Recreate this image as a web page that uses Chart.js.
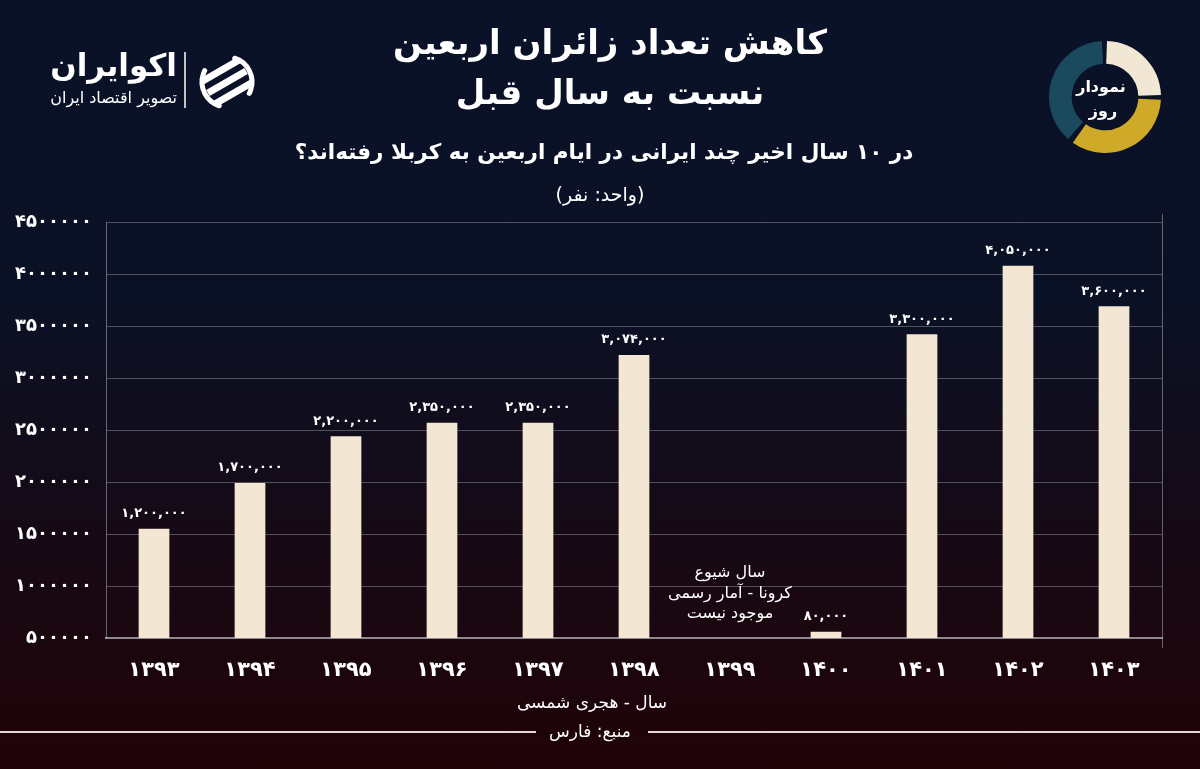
<!DOCTYPE html>
<html lang="fa">
<head>
<meta charset="utf-8">
<script src="https://cdn.jsdelivr.net/npm/chart.js@4.4.1/dist/chart.umd.min.js"></script>
<style>
  html, body { margin: 0; padding: 0; }
  body {
    width: 1200px; height: 769px; position: relative; overflow: hidden;
    background: linear-gradient(180deg, #0a1229 0%, #0b1124 40%, #150a17 66%, #200307 100%);
  }
  #graph { position: absolute; left: 0; top: 0; }
  #badge { position: absolute; left: 1049px; top: 41px; }
</style>
</head>
<body>
<canvas id="graph" width="1200" height="769"></canvas>
<canvas id="badge" width="112" height="112"></canvas>
<script>
// سال‌ها (هجری شمسی)
const years = ['۱۳۹۳', '۱۳۹۴', '۱۳۹۵', '۱۳۹۶', '۱۳۹۷', '۱۳۹۸', '۱۳۹۹', '۱۴۰۰', '۱۴۰۱', '۱۴۰۲', '۱۴۰۳'];
// bar heights as drawn in the picture (the printed labels do not sit on the axis exactly)
const pilgrims = [1550000, 1990000, 2440000, 2570000, 2570000, 3220000, null, 560000, 3420000, 4080000, 3690000];
const valueLabels = ['۱,۲۰۰,۰۰۰', '۱,۷۰۰,۰۰۰', '۲,۲۰۰,۰۰۰', '۲,۳۵۰,۰۰۰', '۲,۳۵۰,۰۰۰', '۳,۰۷۴,۰۰۰', null, '۸۰,۰۰۰', '۳,۳۰۰,۰۰۰', '۴,۰۵۰,۰۰۰', '۳,۶۰۰,۰۰۰'];
const covidNote = ['سال شیوع', 'کرونا - آمار رسمی', 'موجود نیست'];
const yMin = 500000, yMax = 4500000, yStep = 500000;

// نمودار روز (badge)
const badgeShares = [90, 128, 142];
const badgeColors = ['#f2e7d4', '#cfa928', '#1b4a5e'];

const FONT = '"DejaVu Sans", sans-serif';
Chart.defaults.font.family = FONT;
const faDigits = s => String(s).replace(/\d/g, d => '۰۱۲۳۴۵۶۷۸۹'[d]);

function say(ctx, str, x, y, font, align) {
  ctx.font = font;
  ctx.fillStyle = '#ffffff';
  ctx.textAlign = align || 'center';
  ctx.textBaseline = 'middle';
  ctx.direction = 'rtl';
  ctx.fillText(str, x, y);
}

function drawLogo(ctx) {
  say(ctx, 'اکوایران', 177, 68, 'bold 31px ' + FONT, 'right');
  say(ctx, 'تصویر اقتصاد ایران', 177, 99, '16px ' + FONT, 'right');
  ctx.strokeStyle = '#ffffff';
  ctx.lineWidth = 1.5;
  ctx.beginPath(); ctx.moveTo(185, 52); ctx.lineTo(185, 108); ctx.stroke();
  // icon
  ctx.save();
  ctx.translate(227, 82);
  ctx.lineWidth = 5;
  ctx.lineCap = 'round';
  ctx.beginPath(); ctx.arc(0, 0, 25, Math.PI * 0.6, Math.PI * 1.15); ctx.stroke();
  ctx.beginPath(); ctx.arc(0, 0, 25, -Math.PI * 0.4, Math.PI * 0.15); ctx.stroke();
  ctx.beginPath(); ctx.arc(0, 0, 28, 0, Math.PI * 2); ctx.clip();
  ctx.rotate(-Math.PI / 6);
  ctx.fillStyle = '#ffffff';
  [-13, 0, 13].forEach(dy => ctx.fillRect(-22, dy - 3.5, 44, 7));
  ctx.restore();
}

const decor = {
  id: 'decor',
  afterDatasetsDraw(chart) {
    const ctx = chart.ctx;
    const meta = chart.getDatasetMeta(0);
    meta.data.forEach((bar, i) => {
      if (valueLabels[i] && pilgrims[i] !== null) {
        say(ctx, valueLabels[i], bar.x, bar.y - 15, 'bold 13px ' + FONT);
      }
    });
    // note on the missing year
    const idx = pilgrims.indexOf(null);
    const nx = chart.scales.x.getPixelForValue(idx);
    covidNote.forEach((line, k) => {
      say(ctx, line, nx, chart.chartArea.bottom - 65 + k * 20.5, '16px ' + FONT);
    });
  },
  afterDraw(chart) {
    const ctx = chart.ctx;
    const area = chart.chartArea;
    ctx.save();
    // right frame line
    ctx.strokeStyle = 'rgba(170,170,180,0.55)';
    ctx.lineWidth = 1;
    ctx.beginPath(); ctx.moveTo(area.right + 0.5, area.top - 8); ctx.lineTo(area.right + 0.5, area.bottom + 10); ctx.stroke();

    // titles
    say(ctx, 'کاهش تعداد زائران اربعین', 610, 45, 'bold 34px ' + FONT);
    say(ctx, 'نسبت به سال قبل', 610, 95, 'bold 34px ' + FONT);
    say(ctx, 'در ۱۰ سال اخیر چند ایرانی در ایام اربعین به کربلا رفته‌اند؟', 604, 153, 'bold 21.5px ' + FONT);
    say(ctx, '(واحد: نفر)', 600, 196, '19px ' + FONT);

    drawLogo(ctx);

    // footer
    say(ctx, 'سال - هجری شمسی', 592, 704, '17px ' + FONT);
    say(ctx, 'منبع: فارس', 590, 733, '17px ' + FONT);
    ctx.strokeStyle = '#e6d6d6';
    ctx.lineWidth = 2;
    ctx.beginPath(); ctx.moveTo(0, 732); ctx.lineTo(536, 732); ctx.stroke();
    ctx.beginPath(); ctx.moveTo(648, 732); ctx.lineTo(1200, 732); ctx.stroke();
    ctx.restore();
  }
};

const data = {
  labels: years,
  datasets: [
    {
      label: 'زائران اربعین',
      data: pilgrims,
      backgroundColor: '#f3e6d2',
      borderWidth: 0,
      barPercentage: 0.32,
      categoryPercentage: 1
    }
  ]
};

const config = {
  type: 'bar',
  data: data,
  options: {
    responsive: false,
    animation: false,
    events: [],
    layout: { padding: { top: 222, right: 38, left: 0, bottom: 0 } },
    plugins: {
      legend: { display: false },
      tooltip: { enabled: false }
    },
    scales: {
      x: {
        grid: { display: false },
        border: { display: true, color: '#8c898f', width: 2 },
        ticks: { color: '#ffffff', font: { size: 21, weight: 'bold' }, padding: 12 },
        afterFit: s => { s.height = 131; }
      },
      y: {
        min: yMin,
        max: yMax,
        ticks: {
          stepSize: yStep,
          color: '#ffffff',
          font: { size: 18, weight: 'bold' },
          padding: 14,
          callback: v => faDigits(v)
        },
        grid: { color: 'rgba(190,195,210,0.38)', drawTicks: false },
        border: { color: 'rgba(190,195,210,0.5)' },
        afterFit: s => { s.width = 106; }
      }
    }
  },
  plugins: [decor]
};

const chart = new Chart(document.querySelector('#graph'), config);

const badgeLabel = {
  id: 'badgeLabel',
  afterDraw(c) {
    say(c.ctx, 'نمودار', 52, 47, 'bold 16px ' + FONT);
    say(c.ctx, 'روز', 54, 71, 'bold 16px ' + FONT);
  }
};

const badge = new Chart(document.querySelector('#badge'), {
  type: 'doughnut',
  data: {
    labels: ['a', 'b', 'c'],
    datasets: [{ data: badgeShares, backgroundColor: badgeColors, borderWidth: 0, spacing: 4 }]
  },
  options: {
    responsive: false,
    animation: false,
    events: [],
    cutout: '58%',
    plugins: { legend: { display: false }, tooltip: { enabled: false } }
  },
  plugins: [badgeLabel]
});
</script>
</body>
</html>
